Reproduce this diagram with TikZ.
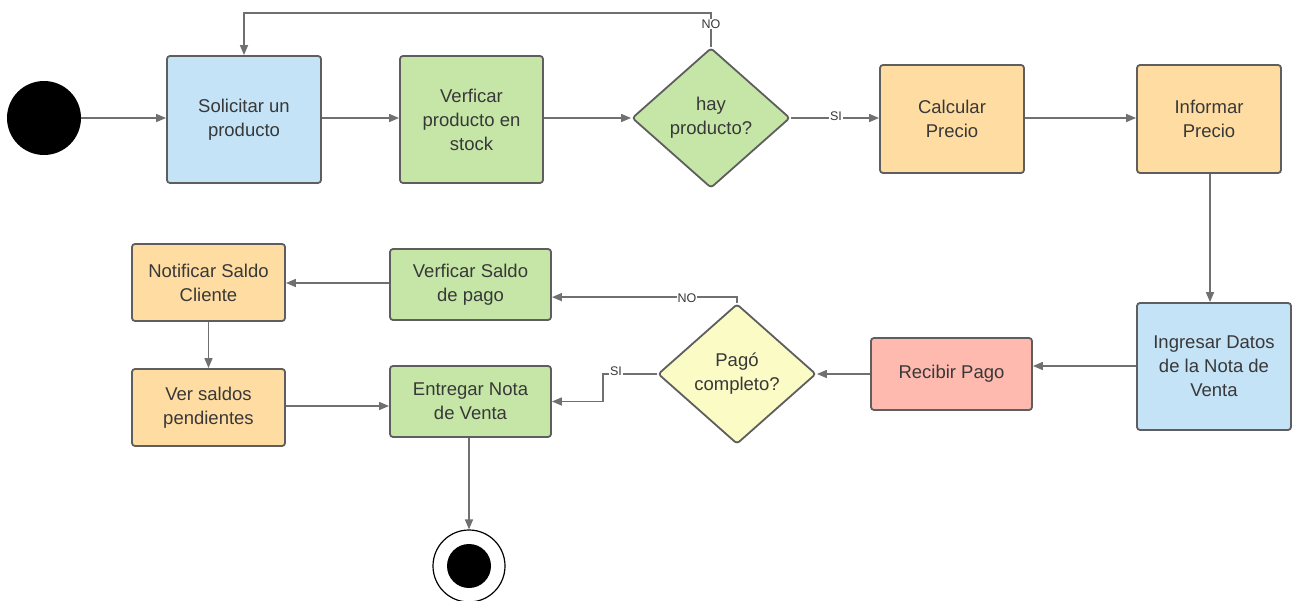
\documentclass[tikz,border=0pt]{standalone}
\usepackage{fontspec}
\setmainfont{Liberation Sans}
\usetikzlibrary{arrows.meta,shapes.geometric}
\definecolor{edgegray}{HTML}{5E5E5E}
\definecolor{linegray}{HTML}{707070}
\definecolor{txtgray}{HTML}{383838}
\definecolor{fillblue}{HTML}{C4E3F6}
\definecolor{fillgreen}{HTML}{C6E6A8}
\definecolor{fillorange}{HTML}{FFDDA2}
\definecolor{fillred}{HTML}{FFBAAF}
\definecolor{fillyellow}{HTML}{FBFBC6}
\begin{document}
\begin{tikzpicture}[x=1pt,y=-1pt,
  box/.style={draw=edgegray,line width=1.8pt,rounded corners=3pt,align=center,
    text=txtgray,font=\fontsize{18.5}{24}\selectfont,inner sep=2pt},
  decision/.style={diamond,draw=edgegray,line width=1.8pt,rounded corners=3pt,align=center,
    text=txtgray,font=\fontsize{18.5}{24}\selectfont,inner sep=0pt},
  flow/.style={draw=linegray,line width=1.6pt,-{Triangle[length=10pt,width=8pt]}},
  guard/.style={fill=white,text=txtgray,font=\fontsize{12.5}{12.5}\selectfont,inner sep=1pt}]
\useasboundingbox (0,0) rectangle (1298,601);

% activities
\node[box,fill=fillblue,minimum width=154pt,minimum height=127pt] (solic) at (244,119.5) {Solicitar un\\producto};
\node[box,fill=fillgreen,minimum width=143pt,minimum height=127pt] (verif) at (471.5,119.5) {Verficar\\producto en\\stock};
\node[decision,fill=fillgreen,minimum width=158pt,minimum height=140pt] (hay) at (711,118) {hay\\producto?};
\node[box,fill=fillorange,minimum width=144pt,minimum height=108pt] (calc) at (952,119) {Calcular\\Precio};
\node[box,fill=fillorange,minimum width=144pt,minimum height=108pt] (inform) at (1209,119) {Informar\\Precio};
\node[box,fill=fillblue,minimum width=154pt,minimum height=127pt] (ingresar) at (1214,366.5) {Ingresar Datos\\de la Nota de\\Venta};
\node[box,fill=fillred,minimum width=161pt,minimum height=72pt] (recibir) at (951.5,374) {Recibir Pago};
\node[decision,fill=fillyellow,minimum width=158pt,minimum height=140pt] (pago) at (737,374) {Pagó\\completo?};
\node[box,fill=fillgreen,minimum width=161pt,minimum height=71pt] (versaldo) at (470.5,284.5) {Verficar Saldo\\de pago};
\node[box,fill=fillgreen,minimum width=161pt,minimum height=71pt] (entregar) at (470.5,401.5) {Entregar Nota\\de Venta};
\node[box,fill=fillorange,minimum width=153pt,minimum height=77pt] (notif) at (208.5,282.5) {Notificar Saldo\\Cliente};
\node[box,fill=fillorange,minimum width=153pt,minimum height=77pt] (ver) at (208.5,407.5) {Ver saldos\\pendientes};

% initial and final states
\node[circle,fill=black,minimum size=74pt,inner sep=0pt] (start) at (44,118) {};
\node[circle,draw=black,line width=1.2pt,fill=white,minimum size=72pt,inner sep=0pt] (end) at (469,566) {};
\node[circle,fill=black,minimum size=44pt,inner sep=0pt] (endcore) at (end) {};

% flows along the top row, all on one level
\draw[flow] (start.east) -- (solic.west |- start.east);
\draw[flow] (solic.east |- hay.west) -- (verif.west |- hay.west);
\draw[flow] (verif.east |- hay.west) -- (hay.west);
\draw[flow] (hay.east) -- (calc.west |- hay.east);
\node[guard] (si1) at (836,116) {SI};
\draw[flow] (calc.east |- hay.east) -- (inform.west |- hay.east);
\draw[flow] (hay.north) -- (hay.north |- 0,13) -| (solic.north);
\node[guard] (no1) at (711,24) {NO};

% flows along the lower rows
\draw[flow] (inform.south -| 1210,0) -- (ingresar.north -| 1210,0);
\draw[flow] (ingresar.west |- 0,366) -- (recibir.east |- 0,366);
\draw[flow] (recibir.west) -- (pago.east);
\draw[flow] (pago.north) -- ++(0,-6) coordinate (nocorner) -- (nocorner -| versaldo.east);
\node[guard] (no2) at (687,298) {NO};
\draw[flow] (pago.west) -- ++(-54,0) coordinate (sicorner) |- (entregar.east);
\node[guard] (si2) at (616,371) {SI};
\draw[flow] (versaldo.west |- 0,283) -- (notif.east |- 0,283);
\draw[flow] (notif.south) -- (ver.north);
\draw[flow] (ver.east |- 0,406) -- (entregar.west |- 0,406);
\draw[flow] (entregar.south -| end.north) -- (end.north);
\end{tikzpicture}
\end{document}
